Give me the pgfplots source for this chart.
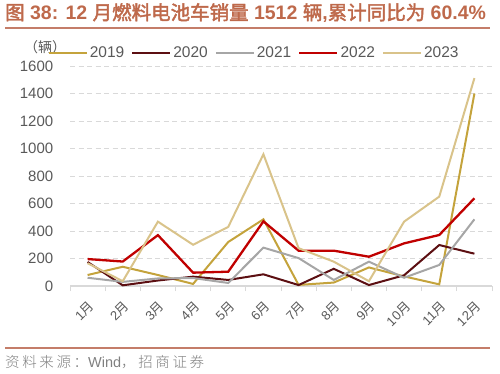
\documentclass[border=0pt]{standalone}
\usepackage{fontspec}
\setmainfont{Liberation Sans}
\newfontfamily\cjk[AutoFakeBold=2.2]{Noto Sans CJK SC}
\newfontfamily\cjksrc[LetterSpace=18]{Noto Sans CJK SC Light}
\usepackage{pgfplots}
\pgfplotsset{compat=1.18}
\definecolor{cA}{RGB}{196,163,60}
\definecolor{cB}{RGB}{92,15,18}
\definecolor{cC}{RGB}{166,166,166}
\definecolor{cD}{RGB}{192,0,0}
\definecolor{cE}{RGB}{217,195,138}
\definecolor{ttl}{RGB}{190,105,75}
\definecolor{tline}{RGB}{196,125,105}
\definecolor{txt}{RGB}{89,89,89}
\definecolor{grd}{RGB}{217,217,217}
\newcommand{\yue}{{\cjk 月}}
\begin{document}
\begin{tikzpicture}
\path[use as bounding box] (0,0) rectangle (500pt,373pt);
\node[anchor=west, text=ttl, inner sep=0pt, font=\fontsize{19.5}{19.5}\selectfont\bfseries] at (5pt,360pt)
 {{\cjk 图} 38: 12 {\cjk 月燃料电池车销量} 1512 {\cjk 辆},{\cjk 累计同比为} 60.4\%};
\draw[tline, line width=2pt] (5pt,345pt) -- (490pt,345pt);
\draw[tline, line width=1.6pt] (5pt,25pt) -- (490pt,25pt);
\node[anchor=west, text=gray, inner sep=0pt, font=\fontsize{14.5}{14.5}\selectfont] at (5pt,11pt)
 {{\cjksrc 资料来源：}Wind{\cjksrc ，招商证券}};
\node[anchor=center, text=txt, inner sep=0pt, font=\fontsize{14}{14}\selectfont\cjk] at (45pt,326pt) {（辆）};
\begin{axis}[
  at={(70pt,87pt)}, anchor=south west,
  scale only axis, width=422pt, height=220pt,
  xmin=0.5, xmax=12.5, ymin=0, ymax=1600,
  axis x line*=bottom, axis y line*=left,
  x axis line style={draw=grd, line width=1.2pt},
  y axis line style={draw=none},
  xtick={1,...,12},
  xticklabels={1\yue,2\yue,3\yue,4\yue,5\yue,6\yue,7\yue,8\yue,9\yue,10\yue,11\yue,12\yue},
  minor xtick={0.5,1.5,...,12.5},
  major x tick style={draw=none},
  minor x tick style={draw=grd, line width=1pt},
  minor tick length=5pt,
  tick align=outside,
  ytick={0,200,...,1600},
  major y tick style={draw=none},
  ymajorgrids,
  grid style={draw=grd, dash pattern=on 5pt off 3.5pt, line width=0.9pt},
  /pgf/number format/assume math mode=true,
  /pgf/number format/1000 sep={},
  yticklabel style={font=\fontsize{15}{15}\selectfont, text=txt, xshift=-9pt},
  xticklabel style={font=\fontsize{13}{13}\selectfont, text=txt, rotate=45, anchor=north east, inner sep=1pt, yshift=-6pt, xshift=-6pt},
  legend style={at={(axis description cs:-0.053,1.059)}, anchor=west, draw=none, fill=none,
    legend columns=5, font=\fontsize{15.5}{15.5}\selectfont, text=txt,
    /tikz/every even column/.append style={column sep=5pt},
    inner sep=0pt, cells={anchor=west}},
  legend image code/.code={\draw[#1] (0pt,0pt) -- (38pt,0pt);},
  every axis plot/.append style={line width=2pt, line join=miter},
]
\addplot[cA] coordinates {(1,80)(2,140)(3,80)(4,15)(5,320)(6,485)(7,8)(8,25)(9,135)(10,70)(11,12)(12,1400)};
\addlegendentry{2019}
\addplot[cB] coordinates {(1,175)(2,5)(3,40)(4,68)(5,44)(6,85)(7,7)(8,125)(9,7)(10,78)(11,298)(12,235)};
\addlegendentry{2020}
\addplot[cC] coordinates {(1,60)(2,30)(3,55)(4,58)(5,22)(6,279)(7,203)(8,44)(9,177)(10,60)(11,153)(12,485)};
\addlegendentry{2021}
\addplot[cD, line width=2.3pt] coordinates {(1,196)(2,178)(3,370)(4,97)(5,104)(6,470)(7,257)(8,257)(9,213)(10,310)(11,371)(12,638)};
\addlegendentry{2022}
\addplot[cE] coordinates {(1,166)(2,35)(3,468)(4,300)(5,430)(6,958)(7,275)(8,177)(9,35)(10,468)(11,650)(12,1512)};
\addlegendentry{2023}
\end{axis}
\end{tikzpicture}
\end{document}
